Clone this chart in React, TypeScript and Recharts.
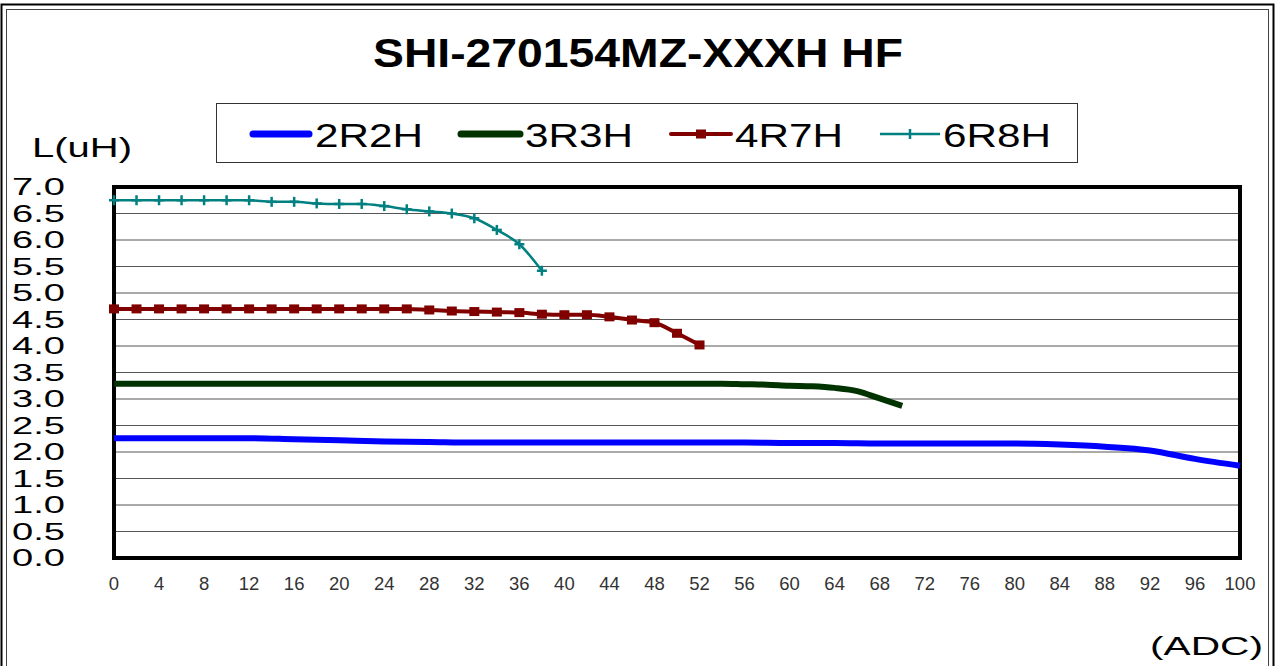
import React from "react";
import {
  LineChart,
  Line,
  XAxis,
  YAxis,
  CartesianGrid,
  ReferenceArea,
} from "recharts";

// current (ADC) and inductance (uH) per part
const amps2R2H = [0, 4, 8, 12, 16, 20, 24, 28, 32, 36, 40, 44, 48, 52, 56, 60, 64, 68, 72, 76, 80, 84, 88, 92, 96, 100];
const l2R2H = [2.26, 2.26, 2.26, 2.26, 2.24, 2.22, 2.2, 2.19, 2.18, 2.18, 2.18, 2.18, 2.18, 2.18, 2.18, 2.17, 2.17, 2.16, 2.16, 2.16, 2.16, 2.14, 2.1, 2.03, 1.87, 1.74];

const amps3R3H = [0, 10, 20, 30, 40, 50, 54, 56, 58, 60, 62, 64, 66, 68, 70];
const l3R3H = [3.29, 3.29, 3.29, 3.29, 3.29, 3.29, 3.29, 3.28, 3.27, 3.25, 3.24, 3.21, 3.15, 3.01, 2.87];

const amps4R7H = [0, 2, 4, 6, 8, 10, 12, 14, 16, 18, 20, 22, 24, 26, 28, 30, 32, 34, 36, 38, 40, 42, 44, 46, 48, 50, 52];
const l4R7H = [4.7, 4.7, 4.7, 4.7, 4.7, 4.7, 4.7, 4.7, 4.7, 4.7, 4.7, 4.7, 4.7, 4.7, 4.68, 4.66, 4.65, 4.64, 4.63, 4.6, 4.59, 4.59, 4.55, 4.49, 4.44, 4.24, 4.02];

const amps6R8H = [0, 2, 4, 6, 8, 10, 12, 14, 16, 18, 20, 22, 24, 26, 28, 30, 32, 34, 36, 38];
const l6R8H = [6.75, 6.75, 6.75, 6.75, 6.75, 6.75, 6.75, 6.72, 6.72, 6.69, 6.68, 6.68, 6.64, 6.58, 6.54, 6.5, 6.41, 6.19, 5.92, 5.42];

const xTicks = [0, 4, 8, 12, 16, 20, 24, 28, 32, 36, 40, 44, 48, 52, 56, 60, 64, 68, 72, 76, 80, 84, 88, 92, 96, 100];
const yTicks = [0, 0.5, 1, 1.5, 2, 2.5, 3, 3.5, 4, 4.5, 5, 5.5, 6, 6.5, 7];

const FONT = "'Liberation Sans', Arial, sans-serif";

const toRows = (xs: number[], ys: number[]) => xs.map((x, i) => ({ x, y: ys[i] }));

const SquareDot = (props: any) => {
  const { cx, cy, index } = props;
  if (cx == null || cy == null) return <g key={`sq-${index}`} />;
  return <rect key={`sq-${index}`} x={cx - 5} y={cy - 4.5} width={10} height={9} fill="#800000" />;
};

const PlusDot = (props: any) => {
  const { cx, cy, index } = props;
  if (cx == null || cy == null) return <g key={`pl-${index}`} />;
  return (
    <g key={`pl-${index}`} stroke="#008080" strokeWidth={2.5}>
      <line x1={cx - 5} y1={cy} x2={cx + 5} y2={cy} />
      <line x1={cx} y1={cy - 5} x2={cx} y2={cy + 5} />
    </g>
  );
};

const YTick = (props: any) => {
  const { x, y, payload } = props;
  return (
    <text
      x={x - 49}
      y={y + 8}
      textAnchor="end"
      fontFamily={FONT}
      fontSize={24}
      fill="#000"
      textLength={53}
      lengthAdjust="spacingAndGlyphs"
    >
      {Number(payload.value).toFixed(1)}
    </text>
  );
};

const XTick = (props: any) => {
  const { x, y, payload } = props;
  return (
    <text x={x} y={y + 32} textAnchor="middle" fontFamily={FONT} fontSize={18.5} fill="#333">
      {payload.value}
    </text>
  );
};

export default function App() {
  return (
    <div style={{ position: "absolute", left: 0, top: 0, width: 1276, height: 666, background: "#fff" }}>
      <LineChart width={1276} height={666} margin={{ top: 187, right: 36, bottom: 68, left: 14 }}>
        <CartesianGrid horizontal vertical={false} stroke="#555" strokeWidth={1} />
        <XAxis
          type="number"
          dataKey="x"
          domain={[0, 100]}
          ticks={xTicks}
          interval={0}
          axisLine={false}
          tickLine={false}
          tickSize={0}
          tickMargin={0}
          height={40}
          tick={<XTick />}
        />
        <YAxis
          type="number"
          domain={[0, 7]}
          ticks={yTicks}
          interval={0}
          axisLine={false}
          tickLine={false}
          tickSize={0}
          tickMargin={0}
          width={100}
          tick={<YTick />}
        />
        <ReferenceArea x1={0} x2={100} y1={0} y2={7} fill="none" stroke="#000" strokeWidth={4} />
        <Line
          data={toRows(amps2R2H, l2R2H)}
          dataKey="y"
          type="monotone"
          stroke="#0000ff"
          strokeWidth={6}
          dot={false}
          isAnimationActive={false}
        />
        <Line
          data={toRows(amps3R3H, l3R3H)}
          dataKey="y"
          type="monotone"
          stroke="#003300"
          strokeWidth={6}
          dot={false}
          isAnimationActive={false}
        />
        <Line
          data={toRows(amps4R7H, l4R7H)}
          dataKey="y"
          type="monotone"
          stroke="#800000"
          strokeWidth={4}
          dot={<SquareDot />}
          isAnimationActive={false}
        />
        <Line
          data={toRows(amps6R8H, l6R8H)}
          dataKey="y"
          type="monotone"
          stroke="#008080"
          strokeWidth={2.5}
          dot={<PlusDot />}
          isAnimationActive={false}
        />
      </LineChart>

      <svg
        width={1276}
        height={666}
        style={{ position: "absolute", left: 0, top: 0, pointerEvents: "none" }}
        fontFamily={FONT}
      >
        {/* double frame */}
        <rect x={1.5} y={4.5} width={1272} height={670} fill="none" stroke="#000" strokeWidth={2} />
        <rect x={6.5} y={9.5} width={1262} height={660} fill="none" stroke="#444" strokeWidth={1} />

        <text x={638} y={67} textAnchor="middle" fontSize={40} fontWeight="bold" textLength={530} lengthAdjust="spacingAndGlyphs">
          SHI-270154MZ-XXXH HF
        </text>

        {/* legend */}
        <rect x={216.5} y={103.5} width={861} height={59} fill="#fff" stroke="#333" strokeWidth={1} />
        <line x1={253} y1={134} x2={309} y2={134} stroke="#0000ff" strokeWidth={7} strokeLinecap="round" />
        <text x={315} y={147} fontSize={34} textLength={108} lengthAdjust="spacingAndGlyphs">2R2H</text>
        <line x1={461} y1={134} x2={520} y2={134} stroke="#003300" strokeWidth={7} strokeLinecap="round" />
        <text x={525} y={147} fontSize={34} textLength={108} lengthAdjust="spacingAndGlyphs">3R3H</text>
        <line x1={671} y1={134} x2={731} y2={134} stroke="#800000" strokeWidth={4} strokeLinecap="round" />
        <rect x={696} y={129.5} width={10} height={9} fill="#800000" />
        <text x={735} y={147} fontSize={34} textLength={108} lengthAdjust="spacingAndGlyphs">4R7H</text>
        <line x1={880} y1={134} x2={940} y2={134} stroke="#008080" strokeWidth={2.5} />
        <line x1={910} y1={129} x2={910} y2={139} stroke="#008080" strokeWidth={2.5} />
        <text x={943} y={147} fontSize={34} textLength={108} lengthAdjust="spacingAndGlyphs">6R8H</text>

        <text x={32} y={157} fontSize={28} textLength={100} lengthAdjust="spacingAndGlyphs">L(uH)</text>
        <text x={1150} y={655} fontSize={25} textLength={113} lengthAdjust="spacingAndGlyphs">(ADC)</text>
      </svg>
    </div>
  );
}
